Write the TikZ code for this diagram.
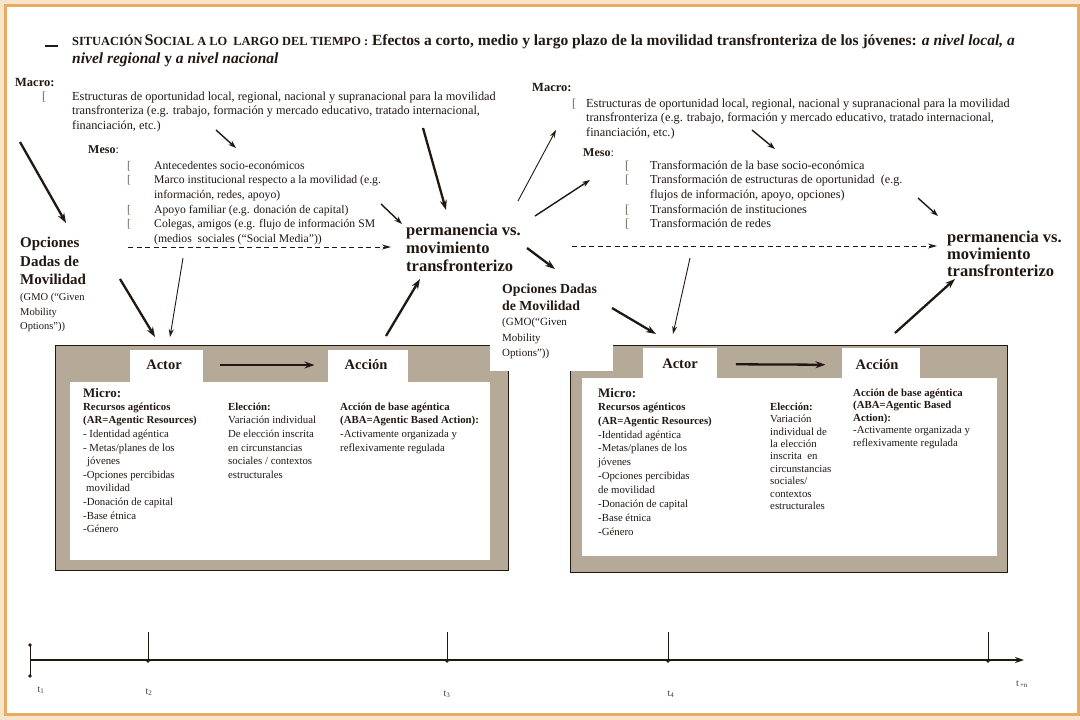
\documentclass[tikz,border=0pt]{standalone}
\usepackage{fontspec}
\setmainfont{Liberation Serif}
\usetikzlibrary{arrows.meta}

\definecolor{ink}{HTML}{221812}
\definecolor{peach}{HTML}{F8E4CB}
\definecolor{framebar}{HTML}{E8AB64}
\definecolor{taupe}{HTML}{B5A998}
\definecolor{bullgray}{HTML}{6E665E}

\newcommand{\fsz}[2]{\fontsize{#1}{#2}\selectfont}
\newcommand{\bul}[1]{\makebox[#1][l]{\textcolor{bullgray}{[}}}

\begin{document}
\begin{tikzpicture}[x=1pt,y=-1pt,>={Stealth[length=10pt,width=7pt]},
    every node/.style={inner sep=0pt,text=ink},
    txt/.style={anchor=north west,align=left,font={\fsz{12.3}{14.5}}},
    mesotxt/.style={anchor=north west,align=left,font={\fsz{11.7}{14.6}}},
    boxtxt/.style={anchor=north west,align=left,font={\fsz{10.8}{13.6}}},
    head/.style={anchor=north west,align=left,font={\fsz{15}{18.5}\bfseries}},
    gmo/.style={anchor=north west,align=left,font={\fsz{10.5}{14.5}}},
    label/.style={anchor=west,font={\fsz{12.5}{14}\bfseries}},
    tab/.style={font={\fsz{14.5}{16}\bfseries}},
    tlab/.style={font={\fsz{10}{11}},text=ink!85},
    bigarrow/.style={->,draw=ink,line width=2.3pt},
    midarrow/.style={-{Stealth[length=8pt,width=5.5pt]},draw=ink,line width=1.4pt},
    thinarrow/.style={-{Stealth[length=8pt,width=5pt]},draw=ink,line width=0.9pt},
    dasharrow/.style={-{Stealth[length=9pt,width=5pt]},draw=ink,line width=1pt,dash pattern=on 5pt off 3.5pt}]

% frame
\fill[peach] (0,0) rectangle (1080,720);
\draw[framebar,line width=3pt,fill=white] (5.5,5.5) rectangle (1078.5,714.5);

% title
\draw[ink,line width=2.5pt] (45,46) -- (58,46);
\node[anchor=west,font={\fsz{15.5}{18}\bfseries}] (title_a) at (72,42)
  {{\fsz{12.4}{12}SITUACIÓN\,}{\fsz{16.2}{12}S}{\fsz{12.4}{12}OCIAL A LO\ \ LARGO DEL TIEMPO :}\ Efectos a corto, medio y largo plazo de la movilidad transfronteriza de los jóvenes: \textit{a nivel local, a}};
\node[anchor=west,font={\fsz{15.5}{18}\bfseries}] (title_b) at (72,60)
  {\textit{nivel regional} y \textit{a nivel nacional}};

% boxes
\draw[fill=taupe,draw=ink,line width=1pt] (55,345) rectangle (508,570);
\draw[fill=taupe,draw=ink,line width=1pt] (570,345) rectangle (1007,572);
\fill[white] (489.5,343) rectangle (613,370.5);
\fill[white] (130,350) rectangle (203,383);
\fill[white] (328,350) rectangle (408,383);
\fill[white] (70,382) rectangle (490,560);
\fill[white] (643,348) rectangle (717,379);
\fill[white] (842,348) rectangle (920,379);
\fill[white] (582,378) rectangle (997,556);

% left half
\node[label] (macro_l) at (15,82) {Macro:};
\node[txt] (macro_ltxt) at (42,91.5)
  {\bul{30pt}Estructuras de oportunidad local, regional, nacional y supranacional para la movilidad\\
   \hspace*{30pt}transfronteriza (e.g. trabajo, formación y mercado educativo, tratado internacional,\\
   \hspace*{30pt}financiación, etc.)};
\node[label,font={\fsz{12}{14}}] (meso_l) at (88,150) {\textbf{Meso}:};
\node[mesotxt] (meso_ltxt) at (127,161)
  {\bul{27pt}Antecedentes socio-económicos\\
   \bul{27pt}Marco institucional respecto a la movilidad (e.g.\\
   \hspace*{27pt}información, redes, apoyo)\\
   \bul{27pt}Apoyo familiar (e.g. donación de capital)\\
   \bul{27pt}Colegas, amigos (e.g. flujo de información SM\\
   \hspace*{27pt}(medios\ \ sociales (“Social Media”))};
\node[head] (opc_l) at (20,237) {Opciones\\Dadas de\\Movilidad};
\node[gmo] (gmo_l) at (20,293.5) {(GMO (“Given\\Mobility\\Options”))};
\node[head,font={\fsz{16.5}{18}\bfseries}] (perm_m) at (406,223.5) {permanencia vs.\\movimiento\\transfronterizo};

% left box content
\node[tab] (actor_l) at (164,365) {Actor};
\node[tab] (accion_l) at (366,365) {Acción};
\node[anchor=west,font={\fsz{13}{14}\bfseries}] (micro_l) at (83,393) {Micro:};
\node[boxtxt] (recur_l) at (83,402.5)
  {\textbf{Recursos agénticos}\\\textbf{(AR=Agentic Resources)}\\- Identidad agéntica\\- Metas/planes de los\\\hspace*{4pt}jóvenes\\-Opciones percibidas\\\hspace*{3pt}movilidad\\-Donación de capital\\-Base étnica\\-Género};
\node[boxtxt] (elec_l) at (228,402.5)
  {\textbf{Elección:}\\Variación individual\\De elección inscrita\\en circunstancias\\sociales / contextos\\estructurales};
\node[boxtxt] (aba_l) at (340,402.5)
  {\textbf{Acción de base agéntica}\\\textbf{(ABA=Agentic Based Action):}\\-Activamente organizada y\\reflexivamente regulada};

% right half
\node[label] (macro_r) at (532,87) {Macro:};
\node[txt] (macro_rtxt) at (572,98.5)
  {\bul{14pt}Estructuras de oportunidad local, regional, nacional y supranacional para la movilidad\\
   \hspace*{14pt}transfronteriza (e.g. trabajo, formación y mercado educativo, tratado internacional,\\
   \hspace*{14pt}financiación, etc.)};
\node[label,font={\fsz{12}{14}}] (meso_r) at (583,153) {\textbf{Meso}:};
\node[mesotxt,font={\fsz{12.2}{14.6}}] (meso_rtxt) at (625,160.5)
  {\bul{25pt}Transformación de la base socio-económica\\
   \bul{25pt}Transformación de estructuras de oportunidad\ \ (e.g.\\
   \hspace*{25pt}flujos de información, apoyo, opciones)\\
   \bul{25pt}Transformación de instituciones\\
   \bul{25pt}Transformación de redes};
\node[head,font={\fsz{16.5}{17}\bfseries}] (perm_r) at (947,230.5) {permanencia vs.\\movimiento\\transfronterizo};
\node[head,font={\fsz{13.8}{17}\bfseries}] (opc_r) at (502,284) {Opciones Dadas\\de Movilidad};
\node[gmo,font={\fsz{11}{15.7}}] (gmo_r) at (502,317.5) {(GMO(“Given\\Mobility\\Options”))};

% right box content
\node[tab] (actor_r) at (680,364) {Actor};
\node[tab] (accion_r) at (877,365) {Acción};
\node[anchor=west,font={\fsz{13}{14}\bfseries}] (micro_r) at (598,393) {Micro:};
\node[boxtxt,font={\fsz{10.8}{13.9}}] (recur_r) at (598,402.5)
  {\textbf{Recursos agénticos}\\\textbf{(AR=Agentic Resources)}\\-Identidad agéntica\\-Metas/planes de los\\jóvenes\\-Opciones percibidas\\de movilidad\\-Donación de capital\\-Base étnica\\-Género};
\node[boxtxt,font={\fsz{10.8}{12.4}}] (elec_r) at (770,402.5)
  {\textbf{Elección:}\\Variación\\individual de\\la elección\\inscrita\ \ en\\circunstancias\\sociales/\\contextos\\estructurales};
\node[boxtxt,font={\fsz{10.8}{12.5}}] (aba_r) at (853,388.5)
  {\textbf{Acción de base agéntica}\\\textbf{(ABA=Agentic Based}\\\textbf{Action):}\\-Activamente organizada y\\reflexivamente regulada};

% connector ends
\coordinate (macL_a) at (20,142);   \coordinate (opcL_a) at (66,223);
\coordinate (macL_b) at (216,130);  \coordinate (mesoL_a) at (236,148);
\coordinate (macL_c) at (423,128);  \coordinate (permM_a) at (446,210);
\coordinate (mesoL_b) at (381,204); \coordinate (permM_b) at (402,224);
\coordinate (dashL_a) at (128,247); \coordinate (dashL_b) at (391,247);
\coordinate (opcL_b) at (120,279);  \coordinate (actL_a) at (155,337);
\coordinate (mesoL_c) at (183,258); \coordinate (actL_b) at (170,337);
\coordinate (accL_a) at (386,336);  \coordinate (permM_c) at (420,279);
\coordinate (permM_d) at (518,201); \coordinate (macR_a) at (556,130);
\coordinate (permM_e) at (535,216); \coordinate (mesoR_a) at (590,180);
\coordinate (permM_f) at (527,248); \coordinate (opcR_a) at (555,269);
\coordinate (macR_b) at (752,130);  \coordinate (mesoR_b) at (775,149);
\coordinate (mesoR_c) at (918,198); \coordinate (permR_a) at (938,216);
\coordinate (dashR_a) at (572,246); \coordinate (dashR_b) at (937,246);
\coordinate (opcR_b) at (612,308);  \coordinate (actR_a) at (656,334);
\coordinate (mesoR_d) at (690,258); \coordinate (actR_b) at (673,334);
\coordinate (accR_a) at (895,333);  \coordinate (permR_b) at (955,279);

\draw[bigarrow] (macL_a) -- (opcL_a);
\draw[midarrow] (macL_b) -- (mesoL_a);
\draw[bigarrow] (macL_c) -- (permM_a);
\draw[midarrow] (mesoL_b) -- (permM_b);
\draw[dasharrow] (dashL_a) -- (dashL_b);
\draw[bigarrow] (opcL_b) -- (actL_a);
\draw[thinarrow] (mesoL_c) -- (actL_b);
\draw[bigarrow] (accL_a) -- (permM_c);
\draw[thinarrow] (permM_d) -- (macR_a);
\draw[midarrow] (permM_e) -- (mesoR_a);
\draw[bigarrow] (permM_f) -- (opcR_a);
\draw[midarrow] (macR_b) -- (mesoR_b);
\draw[midarrow] (mesoR_c) -- (permR_a);
\draw[dasharrow] (dashR_a) -- (dashR_b);
\draw[bigarrow] (opcR_b) -- (actR_a);
\draw[thinarrow] (mesoR_d) -- (actR_b);
\draw[bigarrow] (accR_a) -- (permR_b);
\path (actor_l) edge[bigarrow,shorten <=38pt,shorten >=30pt] (accion_l)
      (actor_r) edge[bigarrow,shorten <=38pt,shorten >=30pt] (accion_r);

% time line
\coordinate (t_start) at (30,660);
\coordinate (t_end) at (1024,660);
\draw[ink,line width=1.4pt,-{Stealth[length=9pt,width=6pt]}] (t_start) -- (t_end);
\draw[ink,line width=1pt] (30,645) -- (30,676);
\fill[ink] (30,645) circle (1.8) (30,676) circle (1.8);
\foreach \x in {148,447,668,988} {
  \draw[ink,line width=1pt] (\x,632) -- (\x,661);
  \fill[ink] (\x,661) circle (1.8);
}
\node[tlab] (t_1) at (41,690) {t\textsubscript{1}};
\node[tlab] (t_2) at (149,692) {t\textsubscript{2}};
\node[tlab] (t_3) at (447,694) {t\textsubscript{3}};
\node[tlab] (t_4) at (671,694) {t\textsubscript{4}};
\node[tlab] (t_n) at (1022,684) {t\textsubscript{\,+n}};
\end{tikzpicture}
\end{document}
